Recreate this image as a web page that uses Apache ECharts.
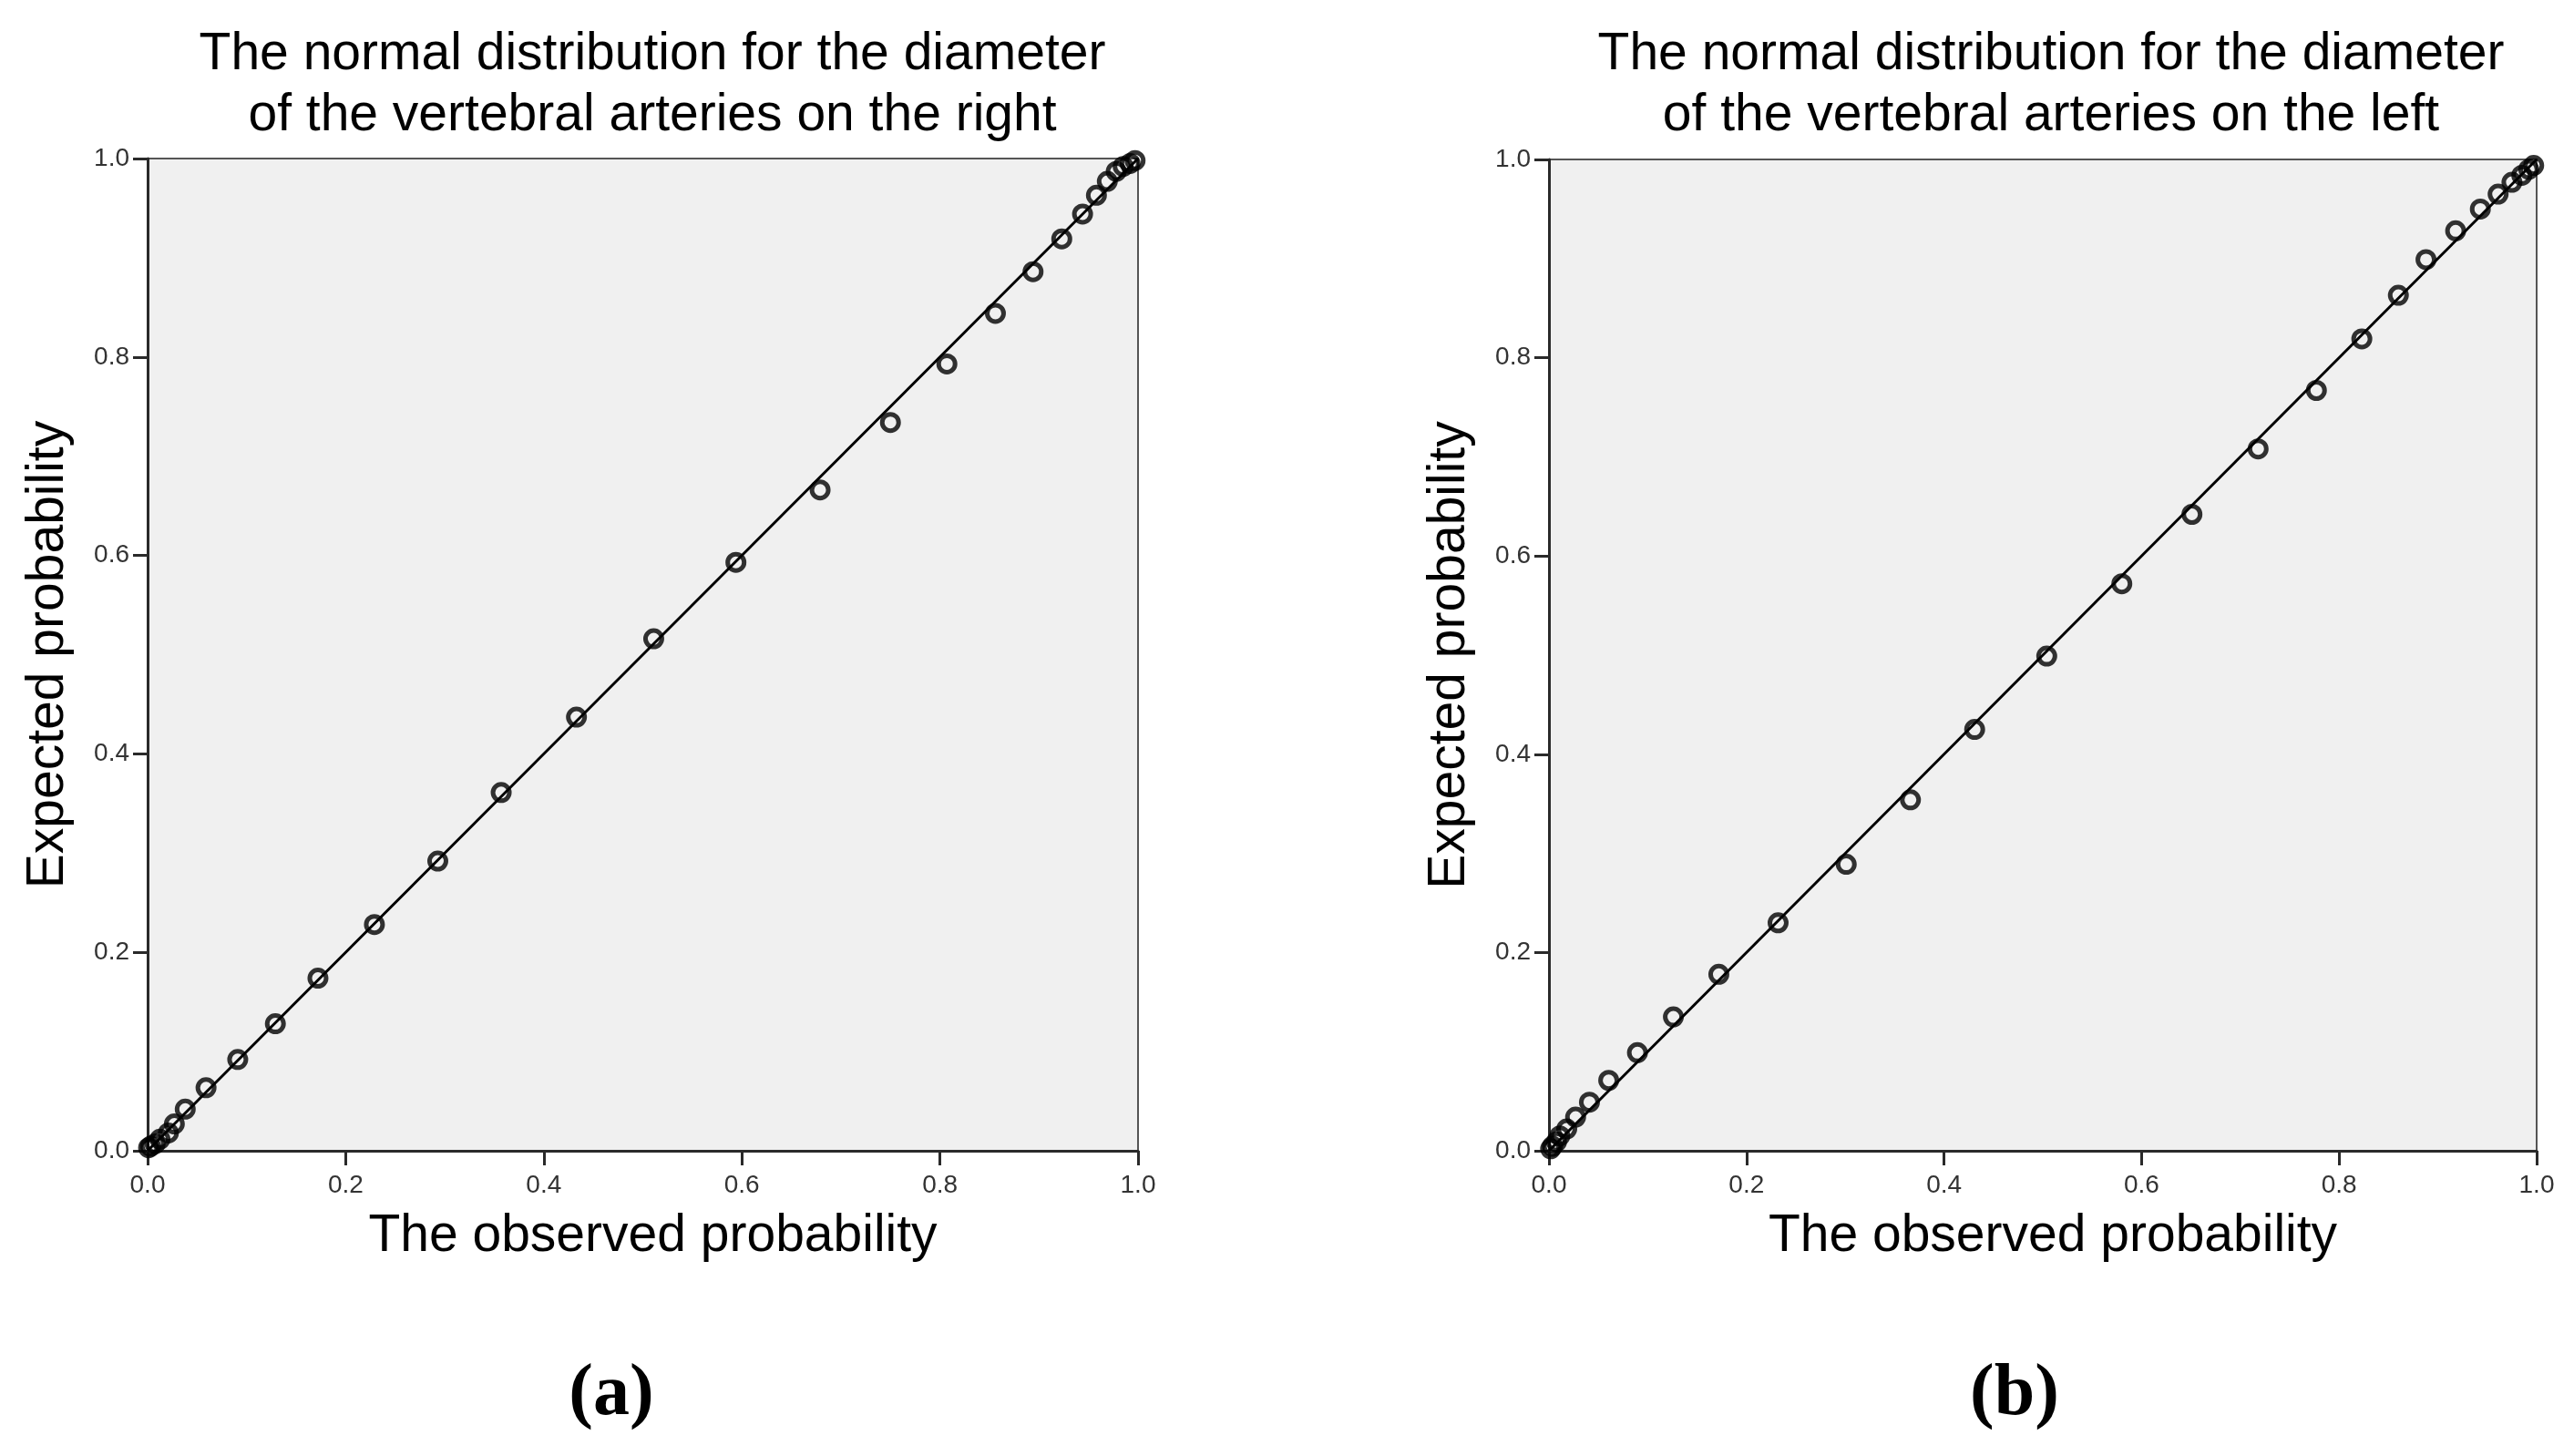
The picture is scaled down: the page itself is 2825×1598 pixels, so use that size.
<!DOCTYPE html>
<html>
<head>
<meta charset="utf-8">
<title>P-P plots</title>
<script src="https://cdn.jsdelivr.net/npm/echarts@6/dist/echarts.min.js"></script>
<style>
  html, body { margin: 0; padding: 0; background: #fff; }
  #main { width: 2825px; height: 1598px; }
</style>
</head>
<body>
<div id="main"></div>
<script>
// ===== data =====
// (a) right vertebral artery
var rightObserved = [0.001, 0.003, 0.0076, 0.0125, 0.021, 0.027, 0.038, 0.059, 0.091, 0.129,
  0.172, 0.229, 0.293, 0.357, 0.433, 0.511, 0.594, 0.679, 0.750, 0.807,
  0.856, 0.894, 0.923, 0.944, 0.958, 0.969, 0.978, 0.985, 0.992, 0.997];
var rightExpected = [0.003, 0.0045, 0.007, 0.0116, 0.018, 0.027, 0.042, 0.0635, 0.092, 0.128,
  0.174, 0.228, 0.292, 0.361, 0.437, 0.516, 0.593, 0.666, 0.734, 0.793,
  0.844, 0.886, 0.919, 0.944, 0.963, 0.977, 0.987, 0.992, 0.995, 0.998];
// (b) left vertebral artery
var leftObserved = [0.0017, 0.0036, 0.0076, 0.011, 0.018, 0.027, 0.041, 0.0605, 0.0896, 0.126,
  0.172, 0.232, 0.301, 0.366, 0.431, 0.504, 0.580, 0.651, 0.718, 0.777,
  0.823, 0.860, 0.888, 0.918, 0.943, 0.961, 0.975, 0.985, 0.992, 0.997];
var leftExpected = [0.002, 0.0046, 0.009, 0.015, 0.022, 0.034, 0.049, 0.071, 0.099, 0.135,
  0.178, 0.230, 0.289, 0.354, 0.425, 0.499, 0.572, 0.642, 0.708, 0.767,
  0.819, 0.863, 0.899, 0.928, 0.950, 0.965, 0.977, 0.984, 0.990, 0.994];
// reference line y = x
var diagonal = [[0, 0], [1, 1]];

var titles = ['The normal distribution for the diameter\nof the vertebral arteries on the right',
  'The normal distribution for the diameter\nof the vertebral arteries on the left'];
var panelLabels = ['(a)', '(b)'];

function pairs(xs, ys) {
  var out = [];
  for (var i = 0; i < xs.length; i++) {
    out.push([xs[i], ys[i]]);
  }
  return out;
}

var sansFont = 'Liberation Sans, Arial, Helvetica, sans-serif';
var serifFont = 'Liberation Serif, Times New Roman, serif';

// axis settings shared by both panels
function makeAxis(idx, name, isY) {
  return {
    type: 'value',
    gridIndex: idx,
    min: 0,
    max: 1,
    interval: 0.2,
    name: name,
    nameLocation: 'middle',
    nameGap: isY ? 80 : 66,
    nameTextStyle: {
      fontFamily: sansFont, fontSize: 57, color: '#000',
      padding: isY ? 0 : [0, 0, 0, 22]
    },
    axisLine: {show: true, onZero: false, lineStyle: {color: '#2a2a2a', width: 3}},
    axisTick: {show: true, length: 16, lineStyle: {color: '#2a2a2a', width: 3}},
    axisLabel: {
      fontFamily: sansFont,
      fontSize: 28,
      color: '#333',
      margin: isY ? 20 : 24,
      formatter: function (v) { return v.toFixed(1); }
    },
    splitLine: {show: false}
  };
}

var scatterStyle = {color: 'rgba(0,0,0,0)', borderColor: '#000', borderWidth: 5};
var lineStyle = {color: '#000', width: 3};
var titleStyle = {fontFamily: sansFont, fontSize: 57, fontWeight: 'normal', color: '#000', lineHeight: 67};
var labelStyle = {fontFamily: serifFont, fontSize: 80, fontWeight: 'bold', color: '#000'};

var option = {
  backgroundColor: '#fff',
  animation: false,
  title: [
    {text: titles[0], left: 711, top: 22, textAlign: 'center', textStyle: titleStyle},
    {text: titles[1], left: 2246, top: 22, textAlign: 'center', textStyle: titleStyle},
    {text: panelLabels[0], left: 666, top: 1486, textAlign: 'center', textStyle: labelStyle},
    {text: panelLabels[1], left: 2206, top: 1486, textAlign: 'center', textStyle: labelStyle}
  ],
  grid: [
    {left: 162, top: 174, width: 1087, height: 1089, show: true, backgroundColor: '#f0f0f0', borderColor: '#555', borderWidth: 2},
    {left: 1700, top: 175, width: 1084, height: 1088, show: true, backgroundColor: '#f0f0f0', borderColor: '#555', borderWidth: 2}
  ],
  xAxis: [
    makeAxis(0, 'The observed probability', false),
    makeAxis(1, 'The observed probability', false)
  ],
  yAxis: [
    makeAxis(0, 'Expected probability', true),
    makeAxis(1, 'Expected probability', true)
  ],
  series: [
    {
      type: 'line', xAxisIndex: 0, yAxisIndex: 0, data: diagonal,
      symbol: 'none', silent: true, lineStyle: lineStyle, z: 2
    },
    {
      type: 'scatter', xAxisIndex: 0, yAxisIndex: 0, data: pairs(rightObserved, rightExpected),
      symbol: 'circle', symbolSize: 18, itemStyle: scatterStyle, z: 3
    },
    {
      type: 'line', xAxisIndex: 1, yAxisIndex: 1, data: diagonal,
      symbol: 'none', silent: true, lineStyle: lineStyle, z: 2
    },
    {
      type: 'scatter', xAxisIndex: 1, yAxisIndex: 1, data: pairs(leftObserved, leftExpected),
      symbol: 'circle', symbolSize: 18, itemStyle: scatterStyle, z: 3
    }
  ]
};

var myChart = echarts.init(document.getElementById('main'));
myChart.setOption(option);
</script>
</body>
</html>
